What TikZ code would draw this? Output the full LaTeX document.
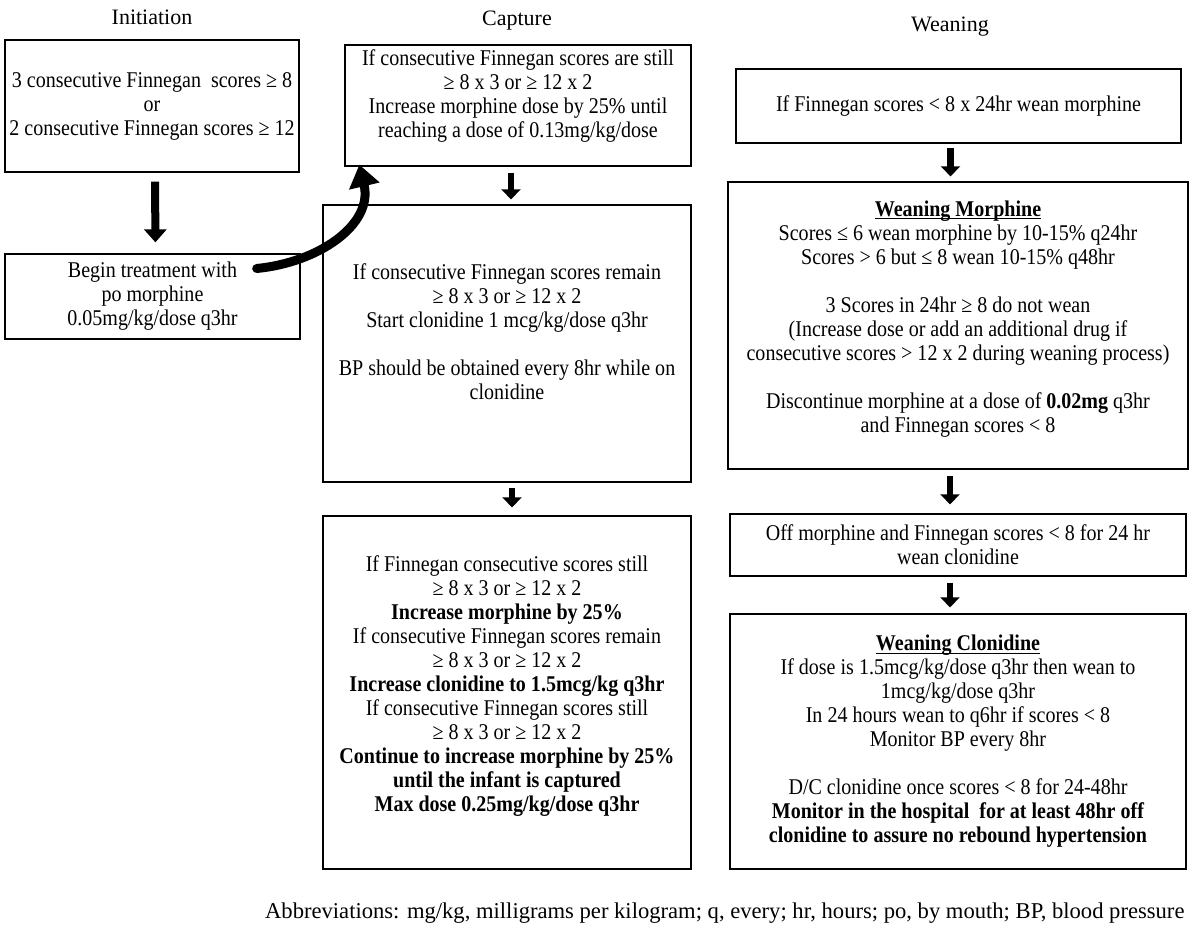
\documentclass[tikz,border=0pt]{standalone}
\usepackage{fontspec}
\setmainfont{Liberation Serif}[FakeStretch=0.89]
\newfontfamily\plainfont{Liberation Serif}
\usetikzlibrary{arrows.meta}
\newcommand\ulbf[1]{\setbox0=\hbox{\textbf{#1}}\rlap{\rule[-3pt]{\wd0}{1.1pt}}\box0}
\newcommand\boxfnt{\fontsize{22.5}{24}\selectfont\lineskiplimit-100pt\relax}
\begin{document}
\begin{tikzpicture}[x=1pt,y=-1pt,
  font=\boxfnt,
  box/.style={draw, line width=1.3pt, align=center, inner sep=0pt},
  txt/.style={align=center, inner sep=0pt},
  ttl/.style={font=\plainfont\fontsize{22}{26}\selectfont},
  blk/.style={line width=8pt, -{Triangle[width=22pt,length=13pt]}},
  sblk/.style={line width=6.5pt, -{Triangle[width=19pt,length=10pt]}},
  curv/.style={line width=9pt, line cap=round, -{Triangle[width=30pt,length=22pt]}}]
\useasboundingbox (0,0) rectangle (1192,938);
\fill[white] (0,0) rectangle (1192,938);

% titles
\node[ttl] (tI) at (152,17) {Initiation};
\node[ttl] (tC) at (517,21) {Capture};
\node[ttl] (tW) at (950,27) {Weaning};

% Initiation
\node[box, minimum width=294pt, minimum height=132pt] (i1) at (152,106)
  {3 consecutive Finnegan\ \ scores ≥ 8\\ or\\ 2 consecutive Finnegan scores ≥ 12};
\node[box, minimum width=295pt, minimum height=85pt] (i2) at (152.5,296.5)
  {Begin treatment with\\ po morphine\\ 0.05mg/kg/dose q3hr};

% Capture
\node[box, minimum width=346pt, minimum height=121pt] (c1) at (518,105.5) {};
\node[txt] (c1t) at ([yshift=9pt]c1.center)
  {If consecutive Finnegan scores are still\\ ≥ 8 x 3 or ≥ 12 x 2\\ Increase morphine dose by 25\% until\\ reaching a dose of 0.13mg/kg/dose};
\node[box, minimum width=368pt, minimum height=277pt] (c2) at (507,343.5)
  {If consecutive Finnegan scores remain\\ ≥ 8 x 3 or ≥ 12 x 2\\ Start clonidine 1 mcg/kg/dose q3hr\\[24pt] BP should be obtained every 8hr while on\\ clonidine\\};
\node[box, minimum width=368pt, minimum height=353pt] (c3) at (507,692.5)
  {If Finnegan consecutive scores still\\ ≥ 8 x 3 or ≥ 12 x 2\\ \textbf{Increase morphine by 25\%}\\ If consecutive Finnegan scores remain\\ ≥ 8 x 3 or ≥ 12 x 2\\ \textbf{Increase clonidine to 1.5mcg/kg q3hr}\\ If consecutive Finnegan scores still\\ ≥ 8 x 3 or ≥ 12 x 2\\ \textbf{Continue to increase morphine by 25\%}\\ \textbf{until the infant is captured}\\ \textbf{Max dose 0.25mg/kg/dose q3hr}\\[-6pt]};

% Weaning
\node[box, minimum width=445pt, minimum height=74pt] (w1) at (958.5,106)
  {If Finnegan scores < 8 x 24hr wean morphine};
\node[box, minimum width=460pt, minimum height=287pt] (w2) at (958,325.5)
  {\ulbf{Weaning Morphine}\\ Scores ≤ 6 wean morphine by 10-15\% q24hr\\ Scores > 6 but ≤ 8 wean 10-15\% q48hr\\[24pt] 3 Scores in 24hr ≥ 8 do not wean\\ (Increase dose or add an additional drug if\\ consecutive scores > 12 x 2 during weaning process)\\[24pt] Discontinue morphine at a dose of \textbf{0.02mg} q3hr\\ and Finnegan scores < 8\\[-6pt]};
\node[box, minimum width=456pt, minimum height=62pt] (w3) at (958,545)
  {Off morphine and Finnegan scores < 8 for 24 hr\\ wean clonidine};
\node[box, minimum width=456pt, minimum height=255pt] (w4) at (958,741.5)
  {\ulbf{Weaning Clonidine}\\ If dose is 1.5mcg/kg/dose q3hr then wean to\\ 1mcg/kg/dose q3hr\\ In 24 hours wean to q6hr if scores < 8\\ Monitor BP every 8hr\\[24pt] D/C clonidine once scores < 8 for 24-48hr\\ \textbf{Monitor in the hospital\ \ for at least 48hr off}\\ \textbf{clonidine to assure no rebound hypertension}};

% abbreviations
\node[anchor=east, font=\plainfont\fontsize{22.6}{26}\selectfont] (ab) at (1188,913)
  {Abbreviations: mg/kg, milligrams per kilogram; q, every; hr, hours; po, by mouth; BP, blood pressure};

% arrows
\draw[blk, shorten <=9pt, shorten >=11pt] ([xshift=3pt]i1.south) -- ([xshift=3pt]i2.north);
\draw[sblk, shorten <=6pt, shorten >=5pt] ([xshift=4pt]c2.north |- c1.south) -- ([xshift=4pt]c2.north);
\draw[sblk, shorten <=5pt, shorten >=8pt] ([xshift=5pt]c2.south) -- ([xshift=5pt]c3.north);
\draw[sblk, shorten <=4pt, shorten >=5pt] ([xshift=-8pt]w1.south) -- ([xshift=-8pt]w1.south |- w2.north);
\draw[sblk, shorten <=6pt, shorten >=9pt] ([xshift=-8pt]w2.south) -- ([xshift=-8pt]w2.south |- w3.north);
\draw[sblk, shorten <=6pt, shorten >=6pt] ([xshift=-8pt]w3.south) -- ([xshift=-8pt]w3.south |- w4.north);

% curved arrow
\coordinate (cs) at ([xshift=-44pt,yshift=28pt]i2.east);
\draw[curv] (cs) .. controls +(62,-6) and +(14,60) .. ([xshift=15pt,yshift=2pt]c1.south west);
\end{tikzpicture}
\end{document}
